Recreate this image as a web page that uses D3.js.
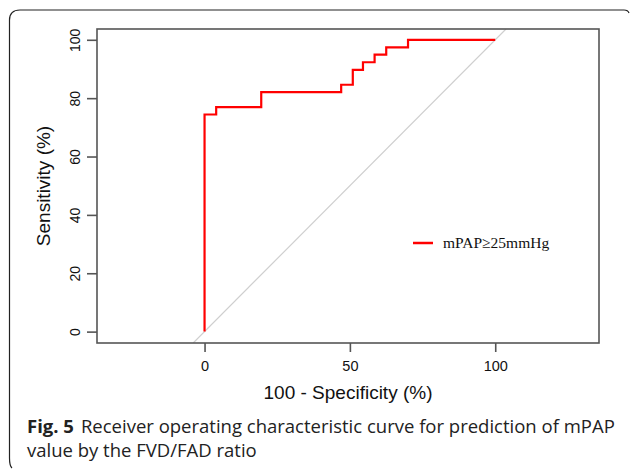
<!DOCTYPE html>
<html>
<head>
<meta charset="UTF-8">
<script src="https://cdn.jsdelivr.net/npm/d3@7"></script>
<style>
  body { margin: 0; background: #fff; }
  svg { display: block; }
</style>
</head>
<body>
<div class="chart"></div>
<script>
  // ROC curve (100 - specificity, sensitivity)
  const fpr = [0, 0, 4, 4, 19.5, 19.5, 47, 47, 51, 51, 54.5, 54.5, 58.5, 58.5, 62.5, 62.5, 70, 70, 100];
  const tpr = [0, 74.4, 74.4, 76.9, 76.9, 82.1, 82.1, 84.6, 84.6, 89.7, 89.7, 92.3, 92.3, 94.9, 94.9, 97.4, 97.4, 100, 100];
  const xTicks = [0, 50, 100];
  const yTicks = [0, 20, 40, 60, 80, 100];
  const seriesName = 'mPAP\u226525mmHg';
  const captionBold = 'Fig. 5';
  const captionLines = ['Receiver operating characteristic curve for prediction of mPAP', 'value by the FVD/FAD ratio'];

  const W = 630, H = 471;
  const plot = {left: 97, top: 29, right: 599, bottom: 343};

  const svg = d3.select('.chart').append('svg').attr('width', W).attr('height', H);

  // rounded outer frame (only top and left edges visible)
  svg.append('path')
    .attr('d', 'M 629 13 Q 628 10 624 10 L 20 10 Q 9.5 10 9.5 20 L 9.5 458 Q 9.5 466 12 468')
    .attr('fill', 'none').attr('stroke', '#222').attr('stroke-width', 1.2);

  const x = d3.scaleLinear().domain([-37, 135.7]).range([plot.left, plot.right]);
  const y = d3.scaleLinear().domain([-3.9, 103.7]).range([plot.bottom, plot.top]);

  svg.append('clipPath').attr('id', 'clip')
    .append('rect').attr('x', plot.left).attr('y', plot.top)
    .attr('width', plot.right - plot.left).attr('height', plot.bottom - plot.top);

  // chance diagonal
  const diag = y.domain();
  svg.append('line')
    .attr('clip-path', 'url(#clip)')
    .attr('x1', x(diag[0])).attr('y1', y(diag[0]))
    .attr('x2', x(diag[1])).attr('y2', y(diag[1]))
    .attr('stroke', '#cfcfcf').attr('stroke-width', 1.2);

  const line = d3.line().x((d, i) => x(fpr[i])).y((d, i) => y(tpr[i]));
  svg.append('path').datum(fpr)
    .attr('d', line)
    .attr('fill', 'none').attr('stroke', '#ff0000').attr('stroke-width', 2.2)
    .attr('stroke-linejoin', 'miter');

  // box
  svg.append('rect')
    .attr('x', plot.left).attr('y', plot.top)
    .attr('width', plot.right - plot.left).attr('height', plot.bottom - plot.top)
    .attr('fill', 'none').attr('stroke', '#555').attr('stroke-width', 1.6);

  const axisFont = 'Liberation Sans, Arial, sans-serif';

  const xAxis = svg.append('g').attr('transform', `translate(0,${plot.bottom})`)
    .call(d3.axisBottom(x).tickValues(xTicks).tickSize(9).tickPadding(9));
  xAxis.select('.domain').remove();
  xAxis.selectAll('line').attr('stroke', '#555').attr('stroke-width', 1.6);
  xAxis.selectAll('text').attr('font-family', axisFont).attr('font-size', 14.5).attr('fill', '#111');

  const yAxis = svg.append('g').attr('transform', `translate(${plot.left},0)`)
    .call(d3.axisLeft(y).tickValues(yTicks).tickSize(10));
  yAxis.select('.domain').remove();
  yAxis.selectAll('line').attr('stroke', '#555').attr('stroke-width', 1.6);
  yAxis.selectAll('text')
    .attr('font-family', axisFont).attr('font-size', 14).attr('fill', '#111')
    .attr('x', 0).attr('y', 0).attr('dy', '0.35em')
    .attr('text-anchor', 'middle')
    .attr('transform', 'translate(-22,0) rotate(-90)');

  svg.append('text')
    .attr('transform', `translate(43,${(plot.top + plot.bottom) / 2}) rotate(-90)`)
    .attr('text-anchor', 'middle').attr('dy', '0.35em')
    .attr('font-family', axisFont).attr('font-size', 19).attr('fill', '#111')
    .text('Sensitivity (%)');

  svg.append('text')
    .attr('x', (plot.left + plot.right) / 2).attr('y', 392)
    .attr('text-anchor', 'middle').attr('dy', '0.35em')
    .attr('font-family', axisFont).attr('font-size', 19).attr('fill', '#111')
    .text('100 - Specificity (%)');

  // legend
  svg.append('line')
    .attr('x1', 413).attr('x2', 433).attr('y1', 243).attr('y2', 243)
    .attr('stroke', '#ff0000').attr('stroke-width', 2.5);
  svg.append('text')
    .attr('x', 443).attr('y', 243).attr('dy', '0.35em')
    .attr('font-family', 'Liberation Serif, Times New Roman, serif').attr('font-size', 15.5)
    .attr('fill', '#111')
    .text(seriesName);

  // caption
  const capFont = 'Open Sans, Noto Sans, sans-serif';
  const cap1 = svg.append('text')
    .attr('x', 27).attr('y', 433)
    .attr('font-family', capFont).attr('font-size', 18.5).attr('fill', '#222');
  cap1.append('tspan').attr('font-weight', 'bold').text(captionBold);
  cap1.append('tspan').attr('dx', 7).text(captionLines[0]);
  svg.append('text')
    .attr('x', 27).attr('y', 457)
    .attr('font-family', capFont).attr('font-size', 18.5).attr('fill', '#222')
    .text(captionLines[1]);
</script>
</body>
</html>
